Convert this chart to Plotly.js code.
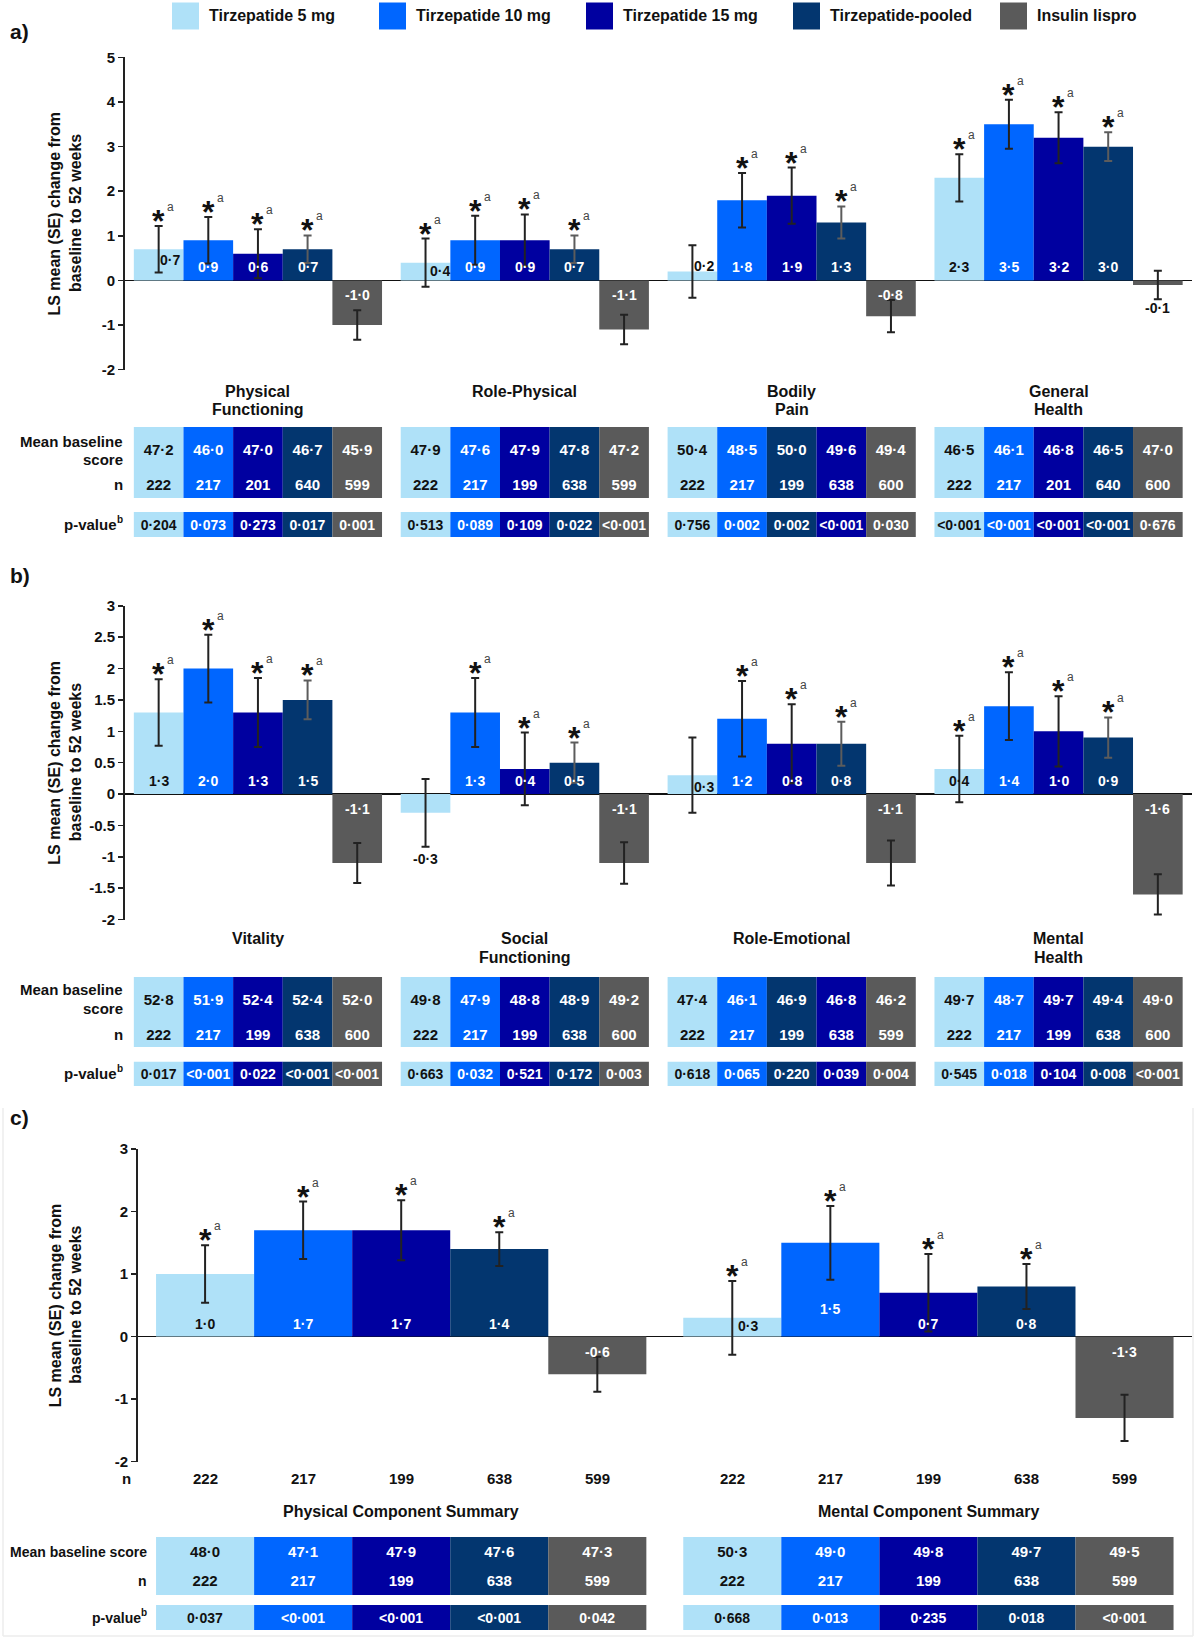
<!DOCTYPE html>
<html>
<head>
<meta charset="utf-8">
<title>SF-36v2 change from baseline to 52 weeks</title>
<script src="https://cdn.plot.ly/plotly-3.0.1.min.js"></script>
<style>
  html, body { margin: 0; padding: 0; background: #ffffff; }
  #fig { width: 1200px; height: 1638px; }
</style>
</head>
<body>
<div id="fig"></div>
<script>
// ---------------- data ----------------
const seriesNames = ['Tirzepatide 5 mg', 'Tirzepatide 10 mg', 'Tirzepatide 15 mg', 'Tirzepatide-pooled', 'Insulin lispro'];
const yTitleLines = ['LS mean (SE) change from', 'baseline to 52 weeks'];

// a) physical domains
const domainsA = ['Physical\nFunctioning', 'Role-Physical', 'Bodily\nPain', 'General\nHealth'];
const changeA = [            // one row per arm, one value per domain
  [0.7, 0.4, 0.2, 2.3],
  [0.9, 0.9, 1.8, 3.5],
  [0.6, 0.9, 1.9, 3.2],
  [0.7, 0.7, 1.3, 3.0],
  [-1.0, -1.1, -0.8, -0.1]
];
const seA = [
  [0.52, 0.54, 0.59, 0.53],
  [0.52, 0.55, 0.61, 0.55],
  [0.55, 0.58, 0.63, 0.57],
  [0.31, 0.31, 0.36, 0.32],
  [0.33, 0.33, 0.36, 0.32]
];
const signifA = [
  [1, 1, 0, 1],
  [1, 1, 1, 1],
  [1, 1, 1, 1],
  [1, 1, 1, 1],
  [0, 0, 0, 0]
];
const baselineA = [          // one row per domain, one value per table column
  [47.2, 46.0, 47.0, 46.7, 45.9],
  [47.9, 47.6, 47.9, 47.8, 47.2],
  [50.4, 48.5, 50.0, 49.6, 49.4],
  [46.5, 46.1, 46.8, 46.5, 47.0]
];
const nA = [
  [222, 217, 201, 640, 599],
  [222, 217, 199, 638, 599],
  [222, 217, 199, 638, 600],
  [222, 217, 201, 640, 600]
];
const pA = [
  ['0.204', '0.073', '0.273', '0.017', '0.001'],
  ['0.513', '0.089', '0.109', '0.022', '<0.001'],
  ['0.756', '0.002', '0.002', '<0.001', '0.030'],
  ['<0.001', '<0.001', '<0.001', '<0.001', '0.676']
];

// b) mental domains
const domainsB = ['Vitality', 'Social\nFunctioning', 'Role-Emotional', 'Mental\nHealth'];
const changeB = [
  [1.3, -0.3, 0.3, 0.4],
  [2.0, 1.3, 1.2, 1.4],
  [1.3, 0.4, 0.8, 1.0],
  [1.5, 0.5, 0.8, 0.9],
  [-1.1, -1.1, -1.1, -1.6]
];
const seB = [
  [0.53, 0.54, 0.60, 0.53],
  [0.54, 0.55, 0.60, 0.54],
  [0.55, 0.58, 0.63, 0.56],
  [0.31, 0.32, 0.35, 0.32],
  [0.32, 0.33, 0.36, 0.32]
];
const signifB = [
  [1, 0, 0, 1],
  [1, 1, 1, 1],
  [1, 1, 1, 1],
  [1, 1, 1, 1],
  [0, 0, 0, 0]
];
const baselineB = [
  [52.8, 51.9, 52.4, 52.4, 52.0],
  [49.8, 47.9, 48.8, 48.9, 49.2],
  [47.4, 46.1, 46.9, 46.8, 46.2],
  [49.7, 48.7, 49.7, 49.4, 49.0]
];
const nB = [
  [222, 217, 199, 638, 600],
  [222, 217, 199, 638, 600],
  [222, 217, 199, 638, 599],
  [222, 217, 199, 638, 600]
];
const pB = [
  ['0.017', '<0.001', '0.022', '<0.001', '<0.001'],
  ['0.663', '0.032', '0.521', '0.172', '0.003'],
  ['0.618', '0.065', '0.220', '0.039', '0.004'],
  ['0.545', '0.018', '0.104', '0.008', '<0.001']
];

// c) component summaries
const domainsC = ['Physical Component Summary', 'Mental Component Summary'];
const changeC = [
  [1.0, 0.3],
  [1.7, 1.5],
  [1.7, 0.7],
  [1.4, 0.8],
  [-0.6, -1.3]
];
const seC = [
  [0.46, 0.59],
  [0.46, 0.59],
  [0.48, 0.62],
  [0.27, 0.36],
  [0.28, 0.37]
];
const signifC = [
  [1, 1],
  [1, 1],
  [1, 1],
  [1, 1],
  [0, 0]
];
const baselineC = [
  [48.0, 47.1, 47.9, 47.6, 47.3],
  [50.3, 49.0, 49.8, 49.7, 49.5]
];
const nC = [
  [222, 217, 199, 638, 599],
  [222, 217, 199, 638, 599]
];
const pC = [
  ['0.037', '<0.001', '<0.001', '<0.001', '0.042'],
  ['0.668', '0.013', '0.235', '0.018', '<0.001']
];

// ---------------- styling ----------------
const FONT = 'Liberation Sans, Arial, Helvetica, sans-serif';
const armColors = ['#afe1f8', '#0066ff', '#0000a0', '#03366f', '#5a5a5a'];
// shade index used by each table column, per domain
const cellShadeA = [[0, 1, 2, 3, 4], [0, 1, 2, 3, 4], [0, 1, 3, 2, 4], [0, 1, 2, 3, 4]];
const cellShadeB = [[0, 1, 2, 3, 4], [0, 1, 2, 3, 4], [0, 1, 3, 2, 4], [0, 1, 2, 3, 4]];
const cellShadeC = [[0, 1, 2, 3, 4], [0, 1, 2, 3, 4]];
// value-label offsets in pixels, keyed "arm,domain"
const labelNudgeA = { '0,0': { dx: 11, dy: 20 }, '0,1': { dx: 14, dy: 9 }, '0,2': { dx: 12, dy: 14 }, '4,3': { dy: -28, color: '#111' } };
const labelNudgeB = { '0,1': { dy: -65, color: '#111' }, '0,2': { dx: 12, dy: 7 } };
const labelNudgeC = { '0,1': { dx: 16, dy: 11 }, '1,1': { dy: 28 } };

// page geometry in pixels
const W = 1200, H = 1638;
const geom = [
  { x: [124.5, 1192], y: [57.4, 369.7], range: [-2, 5], dtick: 1, cat: 391,
    table: [427, 471, 498], pRow: [512, 537], labelRight: 125, labelSize: 15, meanLabel: [441.7, 459.5], letterY: 31.5 },
  { x: [124.5, 1192], y: [605.8, 919.5], range: [-2, 3], dtick: 0.5, cat: 939,
    table: [977, 1021, 1047], pRow: [1061.5, 1086], labelRight: 125, labelSize: 15, meanLabel: [990, 1008], letterY: 575 },
  { x: [137.6, 1192], y: [1149, 1461.7], range: [-2, 3], dtick: 1, cat: 1511,
    table: [1537, 1566, 1595], pRow: [1605, 1630], labelRight: 149, labelSize: 14, meanLabel: [1552],
    nRow: 1478, nRowRight: 133, letterY: 1117.5 }
];

const panels = [
  { letter: 'a)', domains: domainsA, change: changeA, se: seA, signif: signifA, baseline: baselineA, n: nA, p: pA, shade: cellShadeA, nudge: labelNudgeA, greyPooledErr: true },
  { letter: 'b)', domains: domainsB, change: changeB, se: seB, signif: signifB, baseline: baselineB, n: nB, p: pB, shade: cellShadeB, nudge: labelNudgeB, greyPooledErr: true },
  { letter: 'c)', domains: domainsC, change: changeC, se: seC, signif: signifC, baseline: baselineC, n: nC, p: pC, shade: cellShadeC, nudge: labelNudgeC, greyPooledErr: false }
];

// ---------------- helpers ----------------
const fx = v => v / W;
const fy = v => 1 - v / H;
const GAP = 0.07;
const NS = seriesNames.length;
const BW = (1 - GAP) / NS;
const slotX = (g, s) => g + (s - (NS - 1) / 2) * BW;   // centre of a grouped bar
const dot = s => String(s).replace('.', '\u00B7');
const fmt1 = v => dot(v.toFixed(1));
const bold = t => '<b>' + t + '</b>';
const txt = (o) => Object.assign({ showarrow: false, xanchor: 'center', yanchor: 'middle' }, o);
const hiddenAxis = { showticklabels: false, showline: false, showgrid: false, zeroline: false, ticks: '', fixedrange: true };

const traces = [];
const annotations = [];
const shapes = [];
const layout = {
  width: W, height: H,
  margin: { l: 0, r: 0, t: 0, b: 0 },
  paper_bgcolor: '#ffffff', plot_bgcolor: 'rgba(0,0,0,0)',
  barmode: 'group', bargap: GAP, bargroupgap: 0,
  showlegend: false,
  font: { family: FONT, color: '#111' }
};

panels.forEach((P, k) => {
  const G = geom[k];
  const xId = k === 0 ? 'x' : 'x' + (k + 1);
  const yId = k === 0 ? 'y' : 'y' + (k + 1);
  const yTab = 'y' + (4 + 2 * k);
  const yPv = 'y' + (5 + 2 * k);
  const axKey = id => id.replace(/^x/, 'xaxis').replace(/^y/, 'yaxis');
  const nG = P.domains.length;
  const groups = P.domains.map((_, g) => g);

  // axes
  layout[axKey(xId)] = Object.assign({ domain: [fx(G.x[0]), fx(G.x[1])], range: [-0.5, nG - 0.5], anchor: yId }, hiddenAxis);
  const tv = [];
  for (let v = G.range[0]; v <= G.range[1] + 1e-9; v += G.dtick) tv.push(+v.toFixed(2));
  layout[axKey(yId)] = {
    domain: [fy(G.y[1]), fy(G.y[0])], range: G.range, anchor: xId,
    tickvals: tv, ticktext: tv.map(v => bold(String(v))),
    ticks: 'outside', ticklen: 5, tickwidth: 1.5, tickcolor: '#222',
    showline: true, linewidth: 1.5, linecolor: '#222',
    showgrid: false, zeroline: true, zerolinecolor: '#111', zerolinewidth: 1.5,
    tickfont: { family: FONT, size: 15, color: '#111' }, fixedrange: true
  };
  const split = (G.table[2] - G.table[1]) / (G.table[2] - G.table[0]);
  layout[axKey(yTab)] = Object.assign({ domain: [fy(G.table[2]), fy(G.table[0])], range: [0, 1], anchor: xId }, hiddenAxis);
  layout[axKey(yPv)] = Object.assign({ domain: [fy(G.pRow[1]), fy(G.pRow[0])], range: [0, 1], anchor: xId }, hiddenAxis);

  // bars with SE whiskers, value labels and significance marks
  P.change.forEach((vals, s) => {
    const errColor = (P.greyPooledErr && s === 3) ? '#5c5c5c' : '#222';
    traces.push({
      type: 'bar', name: seriesNames[s], xaxis: xId, yaxis: yId, offsetgroup: String(s),
      x: groups, y: vals,
      marker: { color: armColors[s], line: { width: 0 } },
      error_y: { type: 'data', array: P.se[s], visible: true, color: errColor, thickness: 2, width: 4 },
      hoverinfo: 'skip'
    });
    vals.forEach((v, g) => {
      const nd = P.nudge[s + ',' + g] || {};
      annotations.push(txt({
        xref: xId, yref: yId, x: slotX(g, s), y: 0,
        xshift: nd.dx || 0, yshift: nd.dy !== undefined ? nd.dy : (v >= 0 ? 13 : -15),
        text: bold(fmt1(v)),
        font: { family: FONT, size: 14, color: nd.color || (s === 0 ? '#111' : '#fff') }
      }));
      if (P.signif[s][g]) {
        const top = v + P.se[s][g];
        annotations.push(txt({ xref: xId, yref: yId, x: slotX(g, s), y: top, yshift: 5,
          text: bold('*'), font: { family: FONT, size: 32, color: '#111' } }));
        annotations.push(txt({ xref: xId, yref: yId, x: slotX(g, s), y: top, xshift: 12, yshift: 19,
          text: 'a', font: { family: FONT, size: 12, color: '#444' } }));
      }
    });
  });

  // table columns: baseline score row, n row and p-value row
  for (let s = 0; s < NS; s++) {
    const shade = groups.map(g => armColors[P.shade[g][s]]);
    const ink = groups.map(g => (P.shade[g][s] === 0 ? '#111' : '#fff'));
    const cell = {
      type: 'bar', xaxis: xId, offsetgroup: String(s), x: groups,
      marker: { color: shade, line: { width: 0 } },
      textposition: 'inside', insidetextanchor: 'middle', textangle: 0, constraintext: 'none',
      textfont: { family: FONT, size: 15, color: ink }, hoverinfo: 'skip'
    };
    traces.push(Object.assign({}, cell, { yaxis: yTab, base: groups.map(() => split), y: groups.map(() => 1 - split),
      text: groups.map(g => bold(fmt1(P.baseline[g][s]))) }));
    traces.push(Object.assign({}, cell, { yaxis: yTab, base: groups.map(() => 0), y: groups.map(() => split),
      text: groups.map(g => bold(String(P.n[g][s]))) }));
    traces.push(Object.assign({}, cell, { yaxis: yPv, base: groups.map(() => 0), y: groups.map(() => 1),
      textfont: { family: FONT, size: 14, color: ink },
      text: groups.map(g => bold(dot(P.p[g][s]))) }));
  }

  // domain titles
  P.domains.forEach((name, g) => {
    name.split('\n').forEach((line, j) => {
      annotations.push(txt({ xref: xId, yref: 'paper', x: g, y: fy(G.cat + j * 18.6),
        text: bold(line), font: { family: FONT, size: 16, color: '#111' } }));
    });
  });

  // row labels
  const rowFont = { family: FONT, size: G.labelSize, color: '#111' };
  const meanText = G.meanLabel.length > 1 ? ['Mean baseline', 'score'] : ['Mean baseline score'];
  meanText.forEach((t, j) => annotations.push(txt({ xref: 'paper', yref: 'paper', x: fx(G.labelRight), y: fy(G.meanLabel[j]),
    xanchor: 'right', text: bold(t), font: rowFont })));
  annotations.push(txt({ xref: 'paper', yref: 'paper', x: fx(G.labelRight), y: fy((G.table[1] + G.table[2]) / 2),
    xanchor: 'right', text: bold('n'), font: rowFont }));
  const pMid = (G.pRow[0] + G.pRow[1]) / 2;
  annotations.push(txt({ xref: 'paper', yref: 'paper', x: fx(G.labelRight - 6), y: fy(pMid),
    xanchor: 'right', text: bold('p-value'), font: rowFont }));
  annotations.push(txt({ xref: 'paper', yref: 'paper', x: fx(G.labelRight - 10), y: fy(pMid), xanchor: 'left', yshift: 5,
    text: bold('b'), font: { family: FONT, size: 10, color: '#111' } }));

  // n row directly under the summary-score bars
  if (G.nRow) {
    annotations.push(txt({ xref: 'paper', yref: 'paper', x: fx(G.nRowRight), y: fy(G.nRow),
      xanchor: 'right', text: bold('n'), font: { family: FONT, size: 15, color: '#111' } }));
    groups.forEach(g => {
      for (let s = 0; s < NS; s++) {
        annotations.push(txt({ xref: xId, yref: 'paper', x: slotX(g, s), y: fy(G.nRow),
          text: bold(String(P.n[g][s])), font: { family: FONT, size: 15, color: '#111' } }));
      }
    });
  }

  // y-axis title (two rotated lines) and panel letter
  const yMid = (G.y[0] + G.y[1]) / 2;
  yTitleLines.forEach((line, j) => {
    annotations.push(txt({ xref: 'paper', yref: 'paper', x: fx(55 + j * 20.5), y: fy(yMid), textangle: -90,
      text: bold(line), font: { family: FONT, size: 16, color: '#111' } }));
  });
  annotations.push(txt({ xref: 'paper', yref: 'paper', x: fx(8), y: fy(G.letterY), xanchor: 'left',
    text: bold(P.letter), font: { family: FONT, size: 21, color: '#111' } }));
});

// legend
seriesNames.forEach((name, s) => {
  const x0 = 172 + s * 207;
  shapes.push({ type: 'rect', xref: 'paper', yref: 'paper', x0: fx(x0), x1: fx(x0 + 27), y0: fy(29.5), y1: fy(2.5),
    fillcolor: armColors[s], line: { width: 0 } });
  annotations.push(txt({ xref: 'paper', yref: 'paper', x: fx(x0 + 35), y: fy(16), xanchor: 'left',
    text: bold(name), font: { family: FONT, size: 16, color: '#111' } }));
});

// faint frame around panel c
[[3, 1108, 3, 1636], [1193, 1108, 1193, 1636], [3, 1636, 1193, 1636]].forEach(l => {
  shapes.push({ type: 'line', xref: 'paper', yref: 'paper', x0: fx(l[0]), y0: fy(l[1]), x1: fx(l[2]), y1: fy(l[3]),
    line: { color: '#ececec', width: 1.5 } });
});

layout.annotations = annotations;
layout.shapes = shapes;

Plotly.newPlot('fig', traces, layout, { staticPlot: true, displayModeBar: false });
</script>
</body>
</html>
